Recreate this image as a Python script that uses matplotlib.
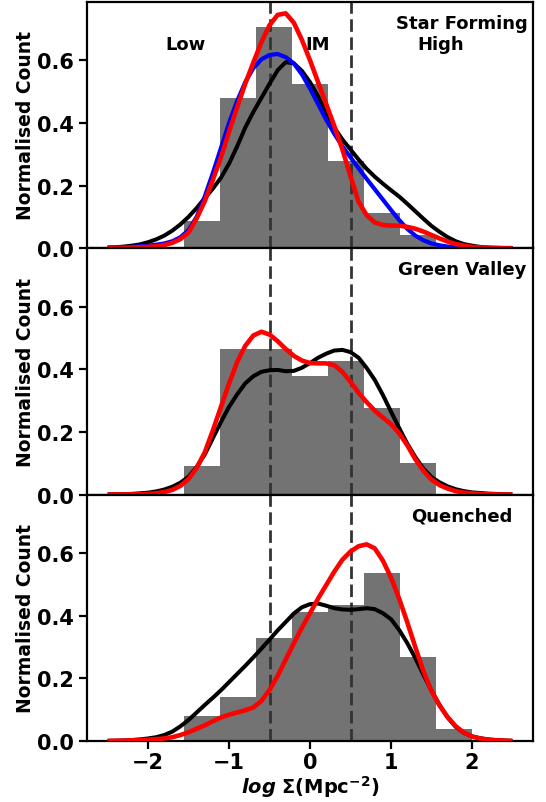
import numpy as np
import matplotlib.pyplot as plt

# ---- data -------------------------------------------------------------
# histogram bins in log Sigma (Mpc^-2)
bin_edges = np.linspace(-1.56, 2.0, 9)

sf_hist = [0.086, 0.478, 0.705, 0.524, 0.277, 0.112, 0.042, 0.0]
gv_hist = [0.090, 0.465, 0.465, 0.380, 0.428, 0.277, 0.100, 0.0]
q_hist = [0.081, 0.142, 0.328, 0.413, 0.433, 0.535, 0.267, 0.038]

# density-curve evaluation grid
log_sigma_grid = np.linspace(-2.5, 2.5, 51)

sf_black = [0.002, 0.003, 0.005, 0.008, 0.012, 0.019, 0.028, 0.040, 0.056, 0.076,
            0.100, 0.128, 0.160, 0.190, 0.225, 0.270, 0.325, 0.385, 0.435, 0.480,
            0.525, 0.568, 0.594, 0.590, 0.566, 0.530, 0.485, 0.430, 0.385, 0.347,
            0.315, 0.283, 0.253, 0.228, 0.206, 0.185, 0.165, 0.142, 0.118, 0.094,
            0.071, 0.052, 0.035, 0.022, 0.013, 0.008, 0.004, 0.002, 0.001, 0.0005,
            0.0]
sf_blue = [0.001, 0.002, 0.003, 0.004, 0.006, 0.008, 0.011, 0.015, 0.022, 0.035,
           0.058, 0.100, 0.165, 0.240, 0.320, 0.400, 0.470, 0.530, 0.575, 0.603,
           0.617, 0.620, 0.610, 0.590, 0.555, 0.510, 0.460, 0.410, 0.365, 0.325,
           0.290, 0.255, 0.221, 0.188, 0.155, 0.122, 0.090, 0.062, 0.040, 0.025,
           0.015, 0.009, 0.005, 0.003, 0.002, 0.001, 0.0005, 0.0, 0.0, 0.0,
           0.0]
sf_red = [0.0005, 0.001, 0.001, 0.002, 0.003, 0.004, 0.006, 0.010, 0.017, 0.029,
          0.050, 0.095, 0.150, 0.218, 0.290, 0.372, 0.450, 0.525, 0.593, 0.658,
          0.712, 0.745, 0.750, 0.720, 0.665, 0.600, 0.530, 0.460, 0.390, 0.315,
          0.230, 0.148, 0.105, 0.082, 0.074, 0.072, 0.072, 0.068, 0.062, 0.053,
          0.042, 0.031, 0.021, 0.013, 0.008, 0.004, 0.002, 0.001, 0.0005, 0.0,
          0.0]

gv_black = [0.0005, 0.001, 0.0015, 0.002, 0.004, 0.006, 0.010, 0.016, 0.025, 0.038,
            0.057, 0.088, 0.128, 0.180, 0.232, 0.280, 0.320, 0.355, 0.378, 0.392,
            0.397, 0.398, 0.394, 0.395, 0.405, 0.420, 0.437, 0.450, 0.460, 0.462,
            0.455, 0.437, 0.404, 0.366, 0.318, 0.265, 0.213, 0.163, 0.120, 0.083,
            0.056, 0.039, 0.026, 0.017, 0.011, 0.007, 0.005, 0.003, 0.002, 0.001,
            0.0005]
gv_red = [0.0, 0.0005, 0.0005, 0.001, 0.001, 0.002, 0.004, 0.008, 0.015, 0.028,
          0.050, 0.085, 0.135, 0.205, 0.280, 0.355, 0.423, 0.475, 0.508, 0.520,
          0.511, 0.490, 0.465, 0.443, 0.428, 0.420, 0.419, 0.419, 0.413, 0.392,
          0.360, 0.325, 0.295, 0.268, 0.246, 0.225, 0.196, 0.158, 0.113, 0.076,
          0.048, 0.030, 0.019, 0.011, 0.006, 0.004, 0.002, 0.001, 0.0005, 0.0,
          0.0]

q_black = [0.0005, 0.001, 0.0015, 0.003, 0.005, 0.008, 0.012, 0.019, 0.030, 0.047,
           0.067, 0.091, 0.115, 0.138, 0.162, 0.188, 0.214, 0.240, 0.267, 0.295,
           0.324, 0.353, 0.380, 0.407, 0.427, 0.437, 0.439, 0.432, 0.424, 0.420,
           0.419, 0.421, 0.424, 0.421, 0.408, 0.389, 0.355, 0.313, 0.265, 0.212,
           0.161, 0.115, 0.075, 0.045, 0.026, 0.015, 0.009, 0.005, 0.003, 0.0015,
           0.0005]
q_red = [0.0, 0.0005, 0.001, 0.002, 0.003, 0.004, 0.006, 0.008, 0.012, 0.019,
         0.028, 0.039, 0.050, 0.063, 0.075, 0.084, 0.091, 0.098, 0.107, 0.128,
         0.163, 0.208, 0.260, 0.312, 0.362, 0.408, 0.455, 0.498, 0.541, 0.579,
         0.605, 0.622, 0.628, 0.615, 0.576, 0.522, 0.455, 0.380, 0.300, 0.223,
         0.160, 0.113, 0.076, 0.047, 0.027, 0.014, 0.008, 0.004, 0.002, 0.001,
         0.0]

density_cuts = [-0.5, 0.5]
x_ticks = [-2, -1, 0, 1, 2]
y_ticks = [0.0, 0.2, 0.4, 0.6]

panels = [
    ("Star Forming", sf_hist, [("black", sf_black), ("blue", sf_blue), ("red", sf_red)]),
    ("Green Valley", gv_hist, [("black", gv_black), ("red", gv_red)]),
    ("Quenched", q_hist, [("black", q_black), ("red", q_red)]),
]

# ---- figure -----------------------------------------------------------
fig, axes = plt.subplots(3, 1, figsize=(5.46, 8.03), dpi=100, sharex=True, sharey=True)
fig.subplots_adjust(left=0.160, right=0.9756, top=0.9966, bottom=0.076, hspace=0)

widths = np.diff(bin_edges)
line_widths = {"black": 2.9, "blue": 3.0, "red": 3.3}

for ax, (title, hist, curves) in zip(axes, panels):
    ax.bar(bin_edges[:-1], hist, width=widths, align="edge", color="#737373",
           linewidth=0, zorder=1)
    for c in density_cuts:
        ax.axvline(c, color="#333333", linestyle=(0, (4.5, 2.0)), linewidth=2.0, zorder=2)
    for colour, ys in curves:
        ax.plot(log_sigma_grid, ys, color=colour, linewidth=line_widths[colour],
                solid_joinstyle="round", solid_capstyle="butt", zorder=3)
    ax.text(1.88, 0.72, title, ha="center", va="center", fontsize=13, fontweight="bold")
    ax.set_ylabel("Normalised Count", fontsize=13.5, fontweight="bold", labelpad=2)
    ax.set_yticks(y_ticks)
    ax.tick_params(axis="both", labelsize=15, width=1.6, length=6)
    for lab in ax.get_yticklabels():
        lab.set_fontweight("bold")
    for sp in ax.spines.values():
        sp.set_linewidth(1.6)

axes[0].text(-1.54, 0.652, "Low", ha="center", va="center", fontsize=13, fontweight="bold")
axes[0].text(0.10, 0.652, "IM", ha="center", va="center", fontsize=13, fontweight="bold")
axes[0].text(1.62, 0.652, "High", ha="center", va="center", fontsize=13, fontweight="bold")

axes[-1].set_xlim(-2.75, 2.75)
axes[-1].set_ylim(0, 0.787)
axes[-1].set_xticks(x_ticks)
axes[-1].tick_params(axis="x", pad=2)
for lab in axes[-1].get_xticklabels():
    lab.set_fontweight("bold")
axes[-1].set_xlabel(r"$\mathbfit{log}\ \mathbf{\Sigma(Mpc^{-2})}$", fontsize=14, labelpad=1)

fig.savefig("out.png", dpi=100)
